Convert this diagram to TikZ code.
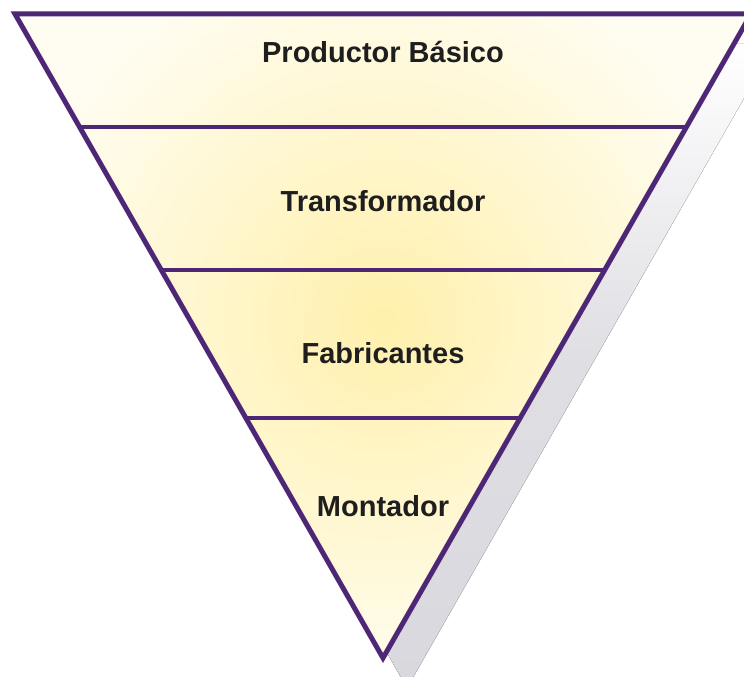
\documentclass[tikz,border=0pt]{standalone}
\usepackage{fontspec}
\setmainfont{Liberation Sans}
\usetikzlibrary{calc}
\definecolor{mypurple}{RGB}{78,38,118}
\definecolor{myyellow}{RGB}{255,240,172}
\definecolor{mycream}{RGB}{255,253,242}
\definecolor{myshadow}{RGB}{216,216,222}
\definecolor{mytext}{RGB}{30,30,30}

\begin{document}
\begin{tikzpicture}[x=1pt,y=-1pt,
    edge/.style={draw=mypurple, line width=5pt, line join=miter},
    divider/.style={draw=mypurple, line width=4pt},
    tier/.style={font={\fontsize{29}{34}\selectfont\bfseries\color{mytext}}, inner sep=0pt}]

    \useasboundingbox (0,0) rectangle (744,677);

    \coordinate (tl) at (15,14);
    \coordinate (tr) at (751,14);
    \coordinate (apex) at (383,658);

    % shadow
    \fill[top color=white, bottom color=myshadow, middle color=myshadow!85]
        ($(tl)+(24,30)$) -- ($(tr)+(24,30)$) -- ($(apex)+(24,30)$) -- cycle;

    % fill
    \begin{scope}
      \clip (tl) -- (tr) -- (apex) -- cycle;
      \fill[mycream] (tl) -- (tr) -- (apex) -- cycle;
      \shade[inner color=myyellow, outer color=mycream] (383,320) circle (380);
    \end{scope}

    % levels
    \foreach \t/\n in {0.1755/a,0.3975/b,0.627/c}{
      \coordinate (l\n) at ($(tl)!\t!(apex)$);
      \coordinate (r\n) at ($(tr)!\t!(apex)$);
      \draw[divider] (l\n) -- (r\n);
    }

    \draw[edge] (tl) -- (tr) -- (apex) -- cycle;

    \node[tier] (prod)  at (383,52)  {Productor Básico};
    \node[tier] (trans) at (383,201) {Transformador};
    \node[tier] (fab)   at (383,353) {Fabricantes};
    \node[tier] (mont)  at (383,506) {Montador};

\end{tikzpicture}
\end{document}
